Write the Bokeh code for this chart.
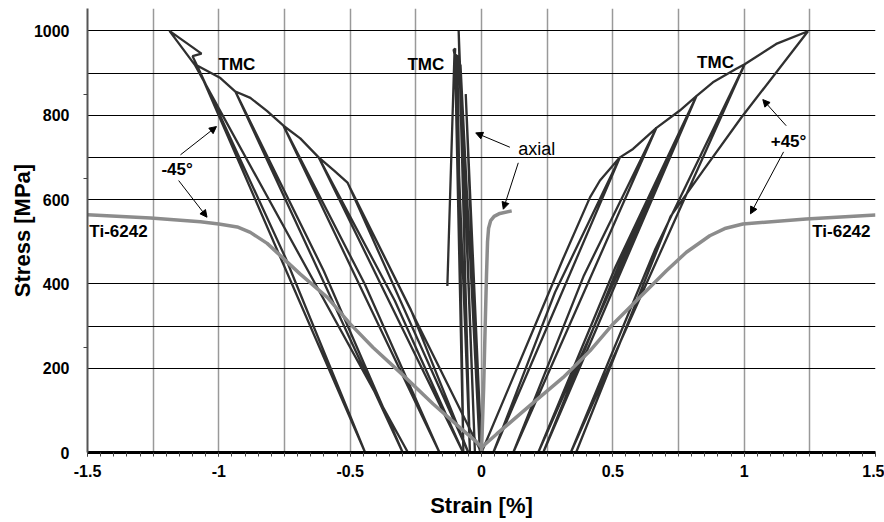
from bokeh.plotting import figure
from bokeh.models import FixedTicker, Label, Arrow, NormalHead
from bokeh.embed import file_html
from bokeh.resources import INLINE
import numpy as np

# ---------------- data ----------------
# Ti-6242, +/-45 deg test (gray curve, both branches)
ti45_strain = [-1.5, -1.26, -1.07, -1.0, -0.93, -0.88, -0.816, -0.778, -0.69, -0.587, -0.5, -0.413,
               -0.31, -0.184, -0.082, -0.017, 0.0, 0.058, 0.184, 0.311, 0.413, 0.501, 0.603,
               0.704, 0.78, 0.869, 0.93, 0.995, 1.236, 1.5]
ti45_stress = [564, 556, 547, 542, 535, 522, 496, 474, 423, 368, 305, 249,
               190, 115, 59, 24, 12, 44, 111, 178, 241, 305, 368,
               431, 475, 514, 532, 542, 554, 563]

# Ti-6242, axial test (gray)
tiax_strain = [0.0, 0.008, 0.014, 0.019, 0.023, 0.027, 0.035, 0.048, 0.07, 0.115]
tiax_stress = [0, 150, 300, 420, 500, 532, 550, 560, 567, 573]

# TMC, -45 deg test (loading / unloading loops)
tmc_m45_strain = [0.0, -0.51, -0.05, -0.27, -0.51, -0.56, -0.62, -0.07, -0.33, -0.62,
                  -0.69, -0.754, -0.16, -0.445, -0.754, -0.817, -0.88, -0.937, -0.30, -0.60,
                  -0.937, -0.994, -1.083, -0.443, -0.745, -1.083, -1.10, -1.066, -1.188,
                  -1.09, -0.28]
tmc_m45_stress = [0, 640, 0, 340, 640, 668, 700, 0, 360, 700,
                  745, 775, 0, 400, 775, 810, 841, 856, 0, 430,
                  856, 888, 918, 0, 460, 918, 940, 946, 1000,
                  918, 0]

# TMC, +45 deg test (loading / unloading loops)
tmc_p45_strain = [0.0, 0.203, 0.311, 0.413, 0.451, 0.527, 0.045, 0.28, 0.527, 0.577,
                  0.666, 0.121, 0.39, 0.666, 0.755, 0.818, 0.216, 0.51, 0.818, 0.235,
                  0.52, 0.818, 0.881, 0.970, 1.002, 0.34, 0.66, 1.002, 1.122, 1.243,
                  0.99, 0.843, 0.72, 0.36]
tmc_p45_stress = [0, 300, 460, 605, 645, 700, 0, 380, 700, 720,
                  770, 0, 420, 770, 811, 845, 0, 440, 845, 0,
                  440, 845, 878, 910, 921, 0, 480, 921, 969, 999,
                  795, 668, 560, 0]

# TMC, axial test
tmc_ax_strain = [0.0, -0.060, -0.006, -0.080, -0.025, -0.087, -0.044, -0.103, -0.106,
                 -0.100, -0.101, -0.069, -0.092, -0.103, -0.130]
tmc_ax_stress = [0, 850, 0, 920, 0, 1000, 0, 945, 955, 958, 945, 0, 940, 945, 395]

x_ticks = [-1.5, -1.0, -0.5, 0.0, 0.5, 1.0, 1.5]
x_tick_labels = ["-1.5", "-1", "-0.5", "0", "0.5", "1", "1.5"]
y_ticks = [0, 200, 400, 600, 800, 1000]
y_tick_labels = ["0", "200", "400", "600", "800", "1000"]

# ---------------- layout / style ----------------
x_grid = [-1.25, -1.0, -0.75, -0.5, -0.25, 0.0, 0.25, 0.5, 0.75, 1.0, 1.25, 1.5]
y_grid = [200, 300, 400, 600, 700, 800, 900, 1000]
x_minor = [round(v, 2) for v in np.arange(-1.5, 1.5001, 0.05)]
y_minor = [250, 650, 850]

FONT = "Liberation Sans"
TMC_COLOR = "#303030"
TI_COLOR = "#8c8c8c"

p = figure(width=884, height=522, x_range=(-1.5, 1.5), y_range=(0, 1053),
           output_backend="svg", toolbar_location=None,
           min_border_left=87, min_border_right=9, min_border_top=8, min_border_bottom=70)
p.outline_line_color = None
p.background_fill_color = "white"

# grids
p.xgrid.ticker = FixedTicker(ticks=x_grid)
p.xgrid.grid_line_color = "#999999"
p.xgrid.grid_line_width = 1.5
p.ygrid.ticker = FixedTicker(ticks=y_grid)
p.ygrid.grid_line_color = "black"
p.ygrid.grid_line_width = 1

# axes
p.xaxis.ticker = FixedTicker(ticks=x_ticks, minor_ticks=x_minor)
p.xaxis.major_label_overrides = {t: s for t, s in zip(x_ticks, x_tick_labels)}
p.yaxis.ticker = FixedTicker(ticks=y_ticks, minor_ticks=y_minor)
p.yaxis.major_label_overrides = {t: s for t, s in zip(y_ticks, y_tick_labels)}

p.xaxis.axis_label = "Strain [%]"
p.yaxis.axis_label = "Stress [MPa]"
for ax in (p.xaxis, p.yaxis):
    ax.axis_label_text_font = FONT
    ax.axis_label_text_font_style = "bold"
    ax.axis_label_text_font_size = "22px"
    ax.axis_label_text_color = "black"
    ax.major_label_text_font = FONT
    ax.major_label_text_font_style = "bold"
    ax.major_label_text_font_size = "16px"
    ax.major_label_text_color = "black"
    ax.major_tick_in = 0
    ax.minor_tick_in = 0

p.xaxis.axis_line_color = "black"
p.xaxis.axis_line_width = 3
p.xaxis.major_tick_out = 4
p.xaxis.minor_tick_out = 4
p.xaxis.major_tick_line_color = "#444444"
p.xaxis.minor_tick_line_color = "#444444"
p.xaxis.major_label_standoff = 8
p.xaxis.axis_label_standoff = 13

p.yaxis.axis_line_color = "#555555"
p.yaxis.axis_line_width = 2
p.yaxis.major_tick_out = 0
p.yaxis.minor_tick_out = 4
p.yaxis.minor_tick_line_color = "#444444"
p.yaxis.major_label_standoff = 14
p.yaxis.axis_label_standoff = -4

# curves
p.line(tmc_m45_strain, tmc_m45_stress, line_color=TMC_COLOR, line_width=2.3)
p.line(tmc_p45_strain, tmc_p45_stress, line_color=TMC_COLOR, line_width=2.3)
p.line(tmc_ax_strain, tmc_ax_stress, line_color=TMC_COLOR, line_width=2.3)
p.line(ti45_strain, ti45_stress, line_color=TI_COLOR, line_width=3.5)
p.line(tiax_strain, tiax_stress, line_color=TI_COLOR, line_width=3.5)

# annotations
def add_label(x, y, text, bold=True, size="17px"):
    p.add_layout(Label(x=x, y=y, text=text, text_font=FONT,
                       text_font_style="bold" if bold else "normal",
                       text_font_size=size, text_color="black",
                       text_align="center", text_baseline="middle"))

add_label(-0.931, 921, "TMC")
add_label(-0.212, 921, "TMC")
add_label(0.891, 925, "TMC")
add_label(-1.159, 672, "-45°")
add_label(1.169, 737, "+45°")
add_label(0.21, 720, "axial", bold=False, size="18px")
add_label(-1.382, 525, "Ti-6242")
add_label(1.37, 525, "Ti-6242")

arrows = [
    (-1.146, 706, -1.009, 773),
    (-1.153, 645, -1.045, 558),
    (0.108, 724, -0.022, 758),
    (0.14, 687, 0.083, 577),
    (1.16, 775, 1.071, 837),
    (1.15, 713, 1.024, 566),
]
for xs, ys, xe, ye in arrows:
    p.add_layout(Arrow(end=NormalHead(size=7, fill_color="black", line_color="black", line_width=1),
                       x_start=xs, y_start=ys, x_end=xe, y_end=ye,
                       line_color="black", line_width=1))

open("out.html", "w").write(file_html(p, INLINE))
